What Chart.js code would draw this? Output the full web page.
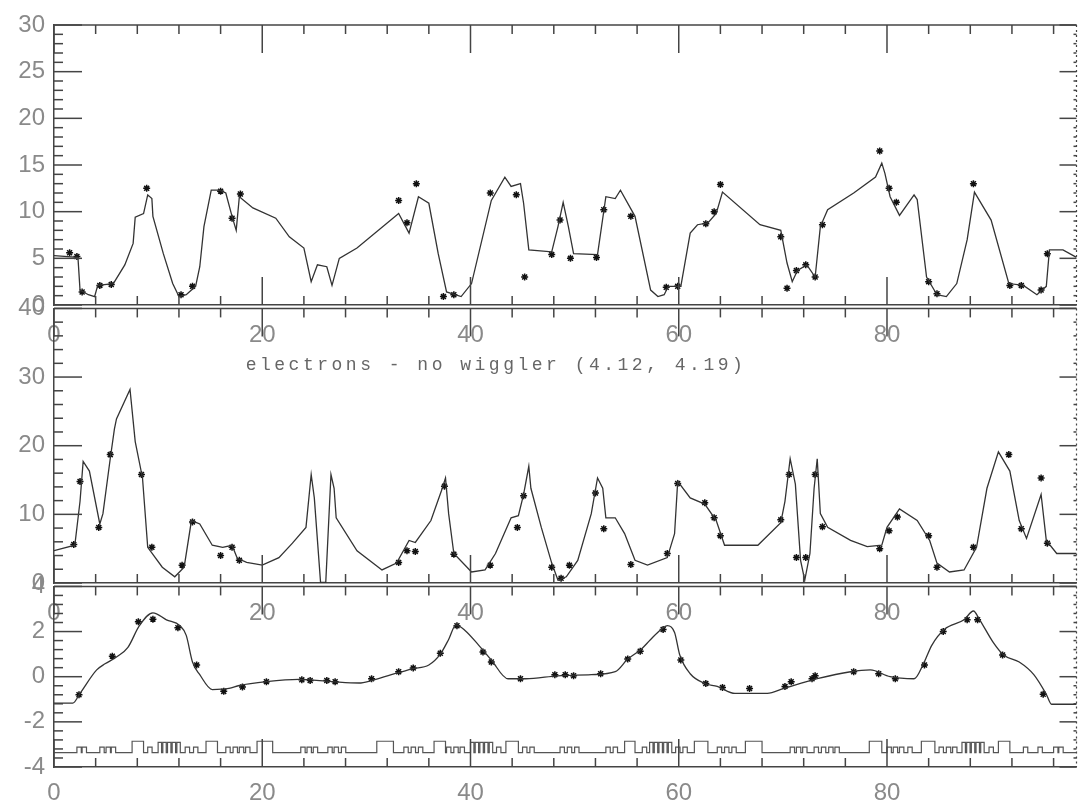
<!DOCTYPE html>
<html>
<head>
<meta charset="utf-8">
<script src="https://cdn.jsdelivr.net/npm/chart.js@4.4.1/dist/chart.umd.min.js"></script>
<style>
  html, body { margin: 0; padding: 0; background: #fff; }
  #wrap { position: relative; width: 1082px; height: 805px; overflow: hidden; }
  #wrap canvas { position: absolute; left: 0; }
</style>
</head>
<body>
<div id="wrap">
  <canvas id="top" width="1082" height="345" style="top:0px"></canvas>
  <canvas id="mid" width="1082" height="338" style="top:285px"></canvas>
  <canvas id="bot" width="1082" height="242" style="top:563px"></canvas>
</div>
<script>
// s [m], value pairs
const TITLE = 'electrons - no wiggler (4.12, 4.19)';
const S_MAX = 98.2;

const topCurve = [[0,5.3],[2.3,5.1],[2.5,1.6],[3.3,1.1],[3.9,0.9],[4.2,2.1],[5.7,2.3],[6.8,4.3],[7.6,6.6],[7.8,9.4],[8.6,9.8],[9.0,11.8],[9.4,11.4],[9.5,9.5],[10.5,5.5],[11.4,2.3],[12.0,0.9],[12.7,1.1],[13.6,2.0],[14.0,4.1],[14.4,8.4],[15.1,12.3],[15.9,12.3],[16.5,12.0],[17.1,9.5],[17.5,8.0],[17.8,11.6],[19.1,10.4],[21.3,9.3],[22.6,7.3],[24.0,6.1],[24.7,2.5],[25.3,4.3],[26.2,4.1],[26.7,2.1],[27.4,5.0],[29.1,6.1],[33.1,9.8],[34.1,7.7],[35.0,11.6],[36.0,10.9],[36.9,5.5],[37.7,1.4],[39.1,0.9],[40.1,2.3],[42.0,11.2],[43.3,13.7],[43.9,12.7],[44.8,13.0],[45.1,10.9],[45.6,5.9],[47.8,5.7],[48.4,8.4],[48.9,11.0],[49.4,8.4],[49.9,5.5],[52.2,5.4],[53.0,11.6],[53.9,11.4],[54.4,12.3],[55.8,9.5],[57.3,1.6],[58.0,0.9],[58.6,1.1],[59.0,2.0],[60.2,2.0],[61.1,7.7],[61.8,8.6],[62.8,8.8],[63.6,9.8],[64.2,12.1],[67.8,8.6],[69.8,8.0],[70.4,4.5],[70.9,2.5],[71.4,3.7],[72.3,4.3],[73.1,3.0],[73.6,8.4],[74.3,10.2],[76.8,12.0],[78.9,13.7],[79.5,15.2],[79.8,14.1],[80.3,11.6],[81.2,9.6],[82.6,11.8],[82.9,11.3],[83.8,3.0],[84.8,1.1],[85.7,0.9],[86.7,2.3],[87.7,7.0],[88.4,12.1],[89.3,10.4],[90.0,9.1],[91.7,2.3],[93.1,2.1],[94.4,1.1],[95.3,2.0],[95.6,5.9],[96.9,5.9],[98.2,5.1]];
const topMarks = [[1.5,5.6],[2.2,5.2],[2.7,1.4],[4.4,2.1],[5.5,2.2],[8.9,12.5],[12.2,1.1],[13.3,2.0],[16.0,12.2],[17.1,9.3],[17.9,11.9],[33.1,11.2],[33.9,8.8],[34.8,13.0],[37.4,0.9],[38.4,1.1],[41.9,12.0],[44.4,11.8],[45.2,3.0],[47.8,5.4],[48.6,9.1],[49.6,5.0],[52.1,5.1],[52.8,10.2],[55.4,9.5],[58.8,1.9],[59.9,2.0],[62.6,8.7],[63.4,10.0],[64.0,12.9],[69.8,7.3],[70.4,1.8],[71.3,3.7],[72.2,4.3],[73.1,3.0],[73.8,8.6],[79.3,16.5],[80.2,12.5],[80.9,11.0],[84.0,2.5],[84.8,1.2],[88.3,13.0],[91.8,2.1],[92.9,2.1],[94.8,1.6],[95.4,5.5]];

const midCurve = [[0,4.7],[2.0,5.5],[2.5,11.9],[2.8,17.7],[3.4,16.3],[4.4,8.6],[4.7,10.1],[5.4,18.1],[5.8,22.4],[6.0,23.9],[7.3,28.2],[7.8,20.6],[8.5,15.3],[9.0,5.2],[10.4,2.3],[11.6,0.9],[12.5,2.3],[13.2,9.1],[14.0,8.6],[15.2,5.5],[16.2,5.2],[17.1,5.5],[17.6,3.6],[18.5,3.0],[20.0,2.6],[21.6,3.7],[22.9,5.8],[24.2,8.1],[24.7,15.8],[25.0,12.4],[25.6,0.1],[26.1,0.1],[26.6,15.8],[26.9,13.8],[27.1,9.5],[29.1,4.7],[31.5,1.9],[32.9,2.9],[34.1,6.2],[34.7,5.9],[36.2,9.1],[37.2,13.4],[37.6,15.3],[37.9,10.1],[38.4,4.3],[40.1,1.6],[41.4,1.9],[42.4,4.3],[43.9,9.5],[44.6,9.8],[45.1,12.9],[45.6,17.0],[45.8,13.8],[46.8,8.1],[47.8,2.9],[48.4,0.4],[49.2,0.9],[50.3,3.3],[51.6,10.1],[52.2,15.3],[52.7,13.8],[53.0,9.5],[53.9,9.5],[54.8,7.2],[55.8,3.3],[57.0,2.6],[58.9,3.7],[59.6,7.2],[59.9,14.8],[61.1,12.4],[62.5,11.5],[63.6,9.1],[64.4,5.5],[67.6,5.5],[69.8,8.8],[70.2,11.9],[70.7,18.1],[71.2,14.4],[71.7,3.3],[72.1,0.4],[72.6,4.3],[73.0,13.8],[73.3,18.1],[73.6,10.1],[74.3,8.1],[76.5,6.2],[78.1,5.3],[79.5,5.5],[80.0,8.1],[81.2,10.8],[82.9,9.1],[84.1,6.2],[84.8,2.9],[86.0,1.6],[87.4,1.9],[88.6,5.2],[89.6,13.8],[90.7,19.1],[91.8,16.3],[92.7,9.1],[93.4,6.5],[94.8,12.9],[95.3,6.2],[96.3,4.3],[98.2,4.3]];
const midMarks = [[1.9,5.6],[2.5,14.8],[4.3,8.1],[5.4,18.7],[8.4,15.8],[9.4,5.2],[12.3,2.6],[13.3,8.9],[16.0,4.0],[17.1,5.2],[17.8,3.3],[33.1,3.0],[33.9,4.7],[34.7,4.6],[37.5,14.1],[38.4,4.2],[41.9,2.6],[44.5,8.1],[45.1,12.7],[47.8,2.3],[48.7,0.7],[49.5,2.6],[52.0,13.1],[52.8,7.9],[55.4,2.7],[58.9,4.3],[59.9,14.5],[62.5,11.7],[63.4,9.5],[64.0,6.9],[69.8,9.2],[70.6,15.8],[71.3,3.7],[72.2,3.7],[73.1,15.8],[73.8,8.2],[79.3,5.0],[80.2,7.6],[81.0,9.6],[84.0,6.9],[84.8,2.3],[88.3,5.2],[91.7,18.7],[92.9,7.9],[94.8,15.3],[95.4,5.8]];

const botCurve = [[0,-1.17],[1.8,-1.17],[2.5,-0.74],[4.1,0.30],[4.9,0.57],[6.0,0.87],[7.1,1.30],[8.2,2.26],[9.5,2.83],[10.8,2.52],[12.1,2.26],[12.7,1.83],[13.3,0.65],[14.0,0.09],[15.2,-0.57],[16.8,-0.52],[17.8,-0.39],[20.4,-0.22],[23.5,-0.12],[26.7,-0.22],[29.3,-0.28],[30.5,-0.17],[32.4,0.09],[34.4,0.35],[36.0,0.52],[37.1,1.00],[37.9,1.65],[38.6,2.30],[39.5,2.04],[40.8,1.39],[42.0,0.74],[43.6,-0.09],[45.3,-0.09],[48.4,0.04],[51.6,0.09],[53.9,0.22],[55.1,0.78],[56.4,1.22],[57.3,1.65],[58.3,2.09],[58.9,2.26],[59.6,1.96],[60.1,0.96],[61.1,0.13],[62.5,-0.30],[63.7,-0.43],[65.4,-0.74],[68.5,-0.74],[70.1,-0.52],[73.3,-0.09],[76.5,0.22],[78.4,0.30],[80.3,0.0],[82.6,-0.09],[83.5,0.57],[84.3,1.39],[85.5,2.09],[87.4,2.52],[88.3,2.91],[88.9,2.52],[90.2,1.52],[91.2,0.96],[92.7,0.65],[94.1,0.09],[95.3,-0.78],[95.8,-1.22],[98.2,-1.22]];
const botMarks = [[2.4,-0.80],[5.6,0.91],[8.1,2.43],[9.5,2.55],[11.9,2.17],[13.7,0.52],[16.3,-0.65],[18.1,-0.46],[20.4,-0.22],[23.8,-0.14],[24.6,-0.17],[26.2,-0.17],[27.0,-0.22],[30.5,-0.09],[33.1,0.22],[34.5,0.39],[37.1,1.04],[38.7,2.26],[41.2,1.09],[42.0,0.65],[44.8,-0.09],[48.1,0.09],[49.1,0.09],[49.9,0.04],[52.5,0.13],[55.1,0.78],[56.3,1.13],[58.5,2.09],[60.2,0.74],[62.6,-0.30],[64.2,-0.48],[66.8,-0.52],[70.2,-0.43],[70.8,-0.22],[72.8,-0.09],[73.1,0.04],[76.8,0.22],[79.2,0.13],[80.8,-0.09],[83.6,0.52],[85.4,2.0],[87.7,2.52],[88.7,2.52],[91.1,0.96],[95.0,-0.78]];

// lattice: magnet start positions / lengths / heights above the baseline
const latticeBase = -3.36;
const bendS = [7.5, 14.6, 19.5, 31.0, 36.5, 43.4, 54.8, 61.5, 66.4, 78.3, 83.3, 90.7];
const bendL = [1.1, 1.1, 1.5, 1.6, 1.1, 1.2, 1.0, 1.3, 1.6, 1.2, 1.3, 1.1];
const quadS = [2.2, 2.7, 4.4, 5.0, 5.5, 9.0, 12.6, 13.4, 16.5, 17.2, 17.8, 18.4, 23.7, 24.3, 24.9, 26.3, 26.9, 27.6, 33.6, 34.3, 35.0, 37.7, 38.4, 39.0, 42.5, 45.0, 45.7, 48.6, 49.3, 50.0, 53.0, 53.7, 56.5, 59.7, 60.4, 63.7, 64.4, 65.1, 70.7, 71.3, 71.9, 73.0, 73.7, 74.4, 75.0, 80.0, 80.6, 81.2, 82.0, 85.0, 85.7, 86.3, 89.8, 93.1, 94.5, 96.0, 96.5];
const clusterS = [10.0, 10.45, 10.9, 11.35, 11.8, 40.0, 40.45, 40.9, 41.35, 41.8, 57.2, 57.65, 58.1, 58.55, 59.0, 87.2, 87.65, 88.1, 88.55, 89.0];
const bendH = 0.5, quadL = 0.42, quadH = 0.24, clusterL = 0.33, clusterH = 0.45;

const AXIS = '#444';
const LABEL = '#8a8a8a';
const tickFont = { family: 'Liberation Sans', size: 24 };

const pts = arr => arr.map(([x, y]) => ({ x, y }));

function latticePath() {
  const mags = [];
  bendS.forEach((s, i) => mags.push([s, bendL[i], bendH]));
  quadS.forEach(s => mags.push([s, quadL, quadH]));
  clusterS.forEach(s => mags.push([s, clusterL, clusterH]));
  mags.sort((a, b) => a[0] - b[0]);
  const out = [{ x: 0, y: latticeBase }];
  mags.forEach(([s, l, h]) => {
    out.push({ x: s, y: latticeBase }, { x: s, y: latticeBase + h },
             { x: s + l, y: latticeBase + h }, { x: s + l, y: latticeBase });
  });
  out.push({ x: S_MAX, y: latticeBase });
  return out;
}

// inward ticks on all four sides, dotted right edge
const frameTicks = {
  id: 'frameTicks',
  afterDatasetsDraw(chart, args, o) {
    const { ctx, chartArea: a, scales: { x, y } } = chart;
    const seg = (x1, y1, x2, y2) => { ctx.beginPath(); ctx.moveTo(x1, y1); ctx.lineTo(x2, y2); ctx.stroke(); };
    ctx.save();
    ctx.strokeStyle = AXIS;
    ctx.lineWidth = 1.5;
    seg(a.left, a.top, a.right, a.top);
    for (let i = 0; i * o.xStep <= x.max; i++) {
      const v = i * o.xStep;
      const px = x.getPixelForValue(v);
      const len = v % o.xMajor === 0 ? 28 : 9;
      seg(px, a.top, px, a.top + len);
      seg(px, a.bottom, px, a.bottom - len);
    }
    const n = Math.round((y.max - y.min) / o.yStep);
    for (let i = 0; i <= n; i++) {
      const v = y.min + i * o.yStep;
      const py = y.getPixelForValue(v);
      const major = Math.abs(v / o.yMajor - Math.round(v / o.yMajor)) < 1e-6;
      seg(a.left, py, a.left + (major ? 28 : 9), py);
      seg(a.right, py, a.right - (major ? 17 : 3), py);
    }
    ctx.lineWidth = 1.2;
    ctx.setLineDash([2, 3]);
    seg(a.right, a.top, a.right, a.bottom);
    ctx.restore();
  }
};

const midTitle = {
  id: 'midTitle',
  afterDraw(chart) {
    const { ctx, chartArea: a } = chart;
    ctx.save();
    ctx.font = '18px "Liberation Mono"';
    ctx.letterSpacing = '3.5px';
    ctx.fillStyle = '#666';
    ctx.textAlign = 'center';
    ctx.textBaseline = 'middle';
    ctx.fillText(TITLE, a.left + 442, a.top + 57);
    ctx.restore();
  }
};

function curveSet(data) {
  return { data: pts(data), borderColor: '#333', borderWidth: 1.3, pointRadius: 0, tension: 0 };
}
function markSet(data) {
  return { data: pts(data), showLine: false, pointStyle: 'star', pointRadius: 3.5,
           borderColor: '#111', borderWidth: 1.5, backgroundColor: '#111' };
}

function panel(id, p) {
  return new Chart(document.getElementById(id), {
    type: 'line',
    data: { datasets: p.datasets },
    options: {
      responsive: false,
      animation: false,
      events: [],
      layout: { padding: { top: p.padTop, right: 2, left: 0, bottom: 0 } },
      plugins: {
        legend: { display: false },
        tooltip: { enabled: false },
        frameTicks: p.ticks
      },
      scales: {
        x: {
          type: 'linear', min: 0, max: S_MAX,
          afterFit: s => { s.height = p.xHeight; },
          grid: { drawOnChartArea: false, drawTicks: false },
          border: { color: AXIS, width: 1.5 },
          ticks: { stepSize: 20, includeBounds: false, maxRotation: 0, padding: p.xPad,
                   font: tickFont, color: LABEL }
        },
        y: {
          min: p.yMin, max: p.yMax,
          afterFit: s => { s.width = 54; },
          grid: { drawOnChartArea: false, drawTicks: false },
          border: { color: AXIS, width: 1.5 },
          ticks: { stepSize: p.ticks.yMajor, padding: 9, font: tickFont, color: LABEL }
        }
      }
    },
    plugins: [frameTicks].concat(p.extra || [])
  });
}

panel('top', {
  padTop: 25, xHeight: 40, xPad: 16, yMin: 0, yMax: 30,
  ticks: { xStep: 4, xMajor: 20, yStep: 1, yMajor: 5 },
  datasets: [curveSet(topCurve), markSet(topMarks)]
});

panel('mid', {
  padTop: 20, xHeight: 40, xPad: 16, yMin: 0, yMax: 40,
  ticks: { xStep: 4, xMajor: 20, yStep: 2, yMajor: 10 },
  datasets: [curveSet(midCurve), markSet(midMarks)],
  extra: [midTitle]
});

panel('bot', {
  padTop: 20, xHeight: 38, xPad: 12, yMin: -4, yMax: 4,
  ticks: { xStep: 4, xMajor: 20, yStep: 0.4, yMajor: 2 },
  datasets: [
    { ...curveSet(botCurve), cubicInterpolationMode: 'monotone' },
    markSet(botMarks),
    { data: latticePath(), borderColor: '#555', borderWidth: 1.2, pointRadius: 0, tension: 0 }
  ]
});
</script>
</body>
</html>
